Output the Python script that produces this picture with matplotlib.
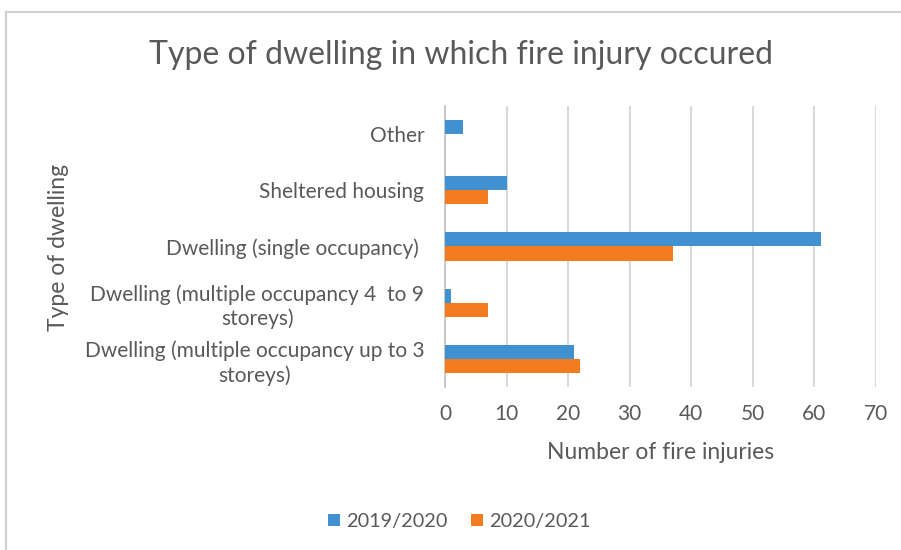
import numpy as np
import matplotlib.pyplot as plt
from matplotlib.patches import Rectangle

plt.rcParams['font.family'] = ['Lato', 'DejaVu Sans']

# fire injuries by dwelling type
categories = ['Other', 'Sheltered housing', 'Dwelling (single occupancy) ',
              'Dwelling (multiple occupancy 4  to 9\nstoreys)',
              'Dwelling (multiple occupancy up to 3\nstoreys)']
injuries_2019 = [3, 10, 61, 1, 21]
injuries_2020 = [0, 7, 37, 7, 22]
series_names = ['2019/2020', '2020/2021']
xticks = [0, 10, 20, 30, 40, 50, 60, 70]

blue = '#4191d0'
orange = '#f47b20'
grey_txt = '#595959'

fig = plt.figure(figsize=(9.01, 5.5), dpi=100)
ax = fig.add_axes([0.4939, 0.2964, 0.4784, 0.5109])

# light frame round the chart area
fig.patches.append(Rectangle((6 / 901, -0.1), 1.2, 1.1 - 12 / 550, transform=fig.transFigure,
                             fill=False, edgecolor='#d0d0d0', linewidth=1.5))

y = np.arange(len(categories))
h = 0.25
ax.barh(y - h / 2, injuries_2019, height=h, color=blue, label=series_names[0], zorder=3)
ax.barh(y + h / 2, injuries_2020, height=h, color=orange, label=series_names[1], zorder=3)

ax.set_ylim(len(categories) - 0.5, -0.5)
ax.set_xlim(0, 70)
ax.set_xticks(xticks)
ax.set_yticks(y)
ax.set_yticklabels(categories, fontsize=15, color=grey_txt, ha='right', multialignment='center',
                   linespacing=1.25)
ax.tick_params(axis='y', length=0, pad=15)
ax.tick_params(axis='x', length=0, pad=12, labelsize=15, labelcolor=grey_txt)

ax.grid(axis='x', color='#d9d9d9', linewidth=1.5, zorder=0)
for side in ['top', 'right', 'bottom']:
    ax.spines[side].set_visible(False)
ax.spines['left'].set_color('#bfbfbf')
ax.spines['left'].set_linewidth(1.2)

ax.set_xlabel('Number of fire injuries', fontsize=16.5, color=grey_txt, labelpad=13)
fig.text(0.065, 0.551, 'Type of dwelling', rotation=90, fontsize=16.5, color=grey_txt,
         ha='center', va='center')
fig.text(0.512, 0.9, 'Type of dwelling in which fire injury occured', fontsize=23,
         color=grey_txt, ha='center', va='center')

fig.legend(loc='center', bbox_to_anchor=(0.51, 0.052), ncol=2, frameon=False,
           fontsize=14.3, labelcolor=grey_txt, handlelength=0.6, handleheight=0.6,
           handletextpad=0.3, columnspacing=1.2)

fig.savefig('out.png', dpi=100)
